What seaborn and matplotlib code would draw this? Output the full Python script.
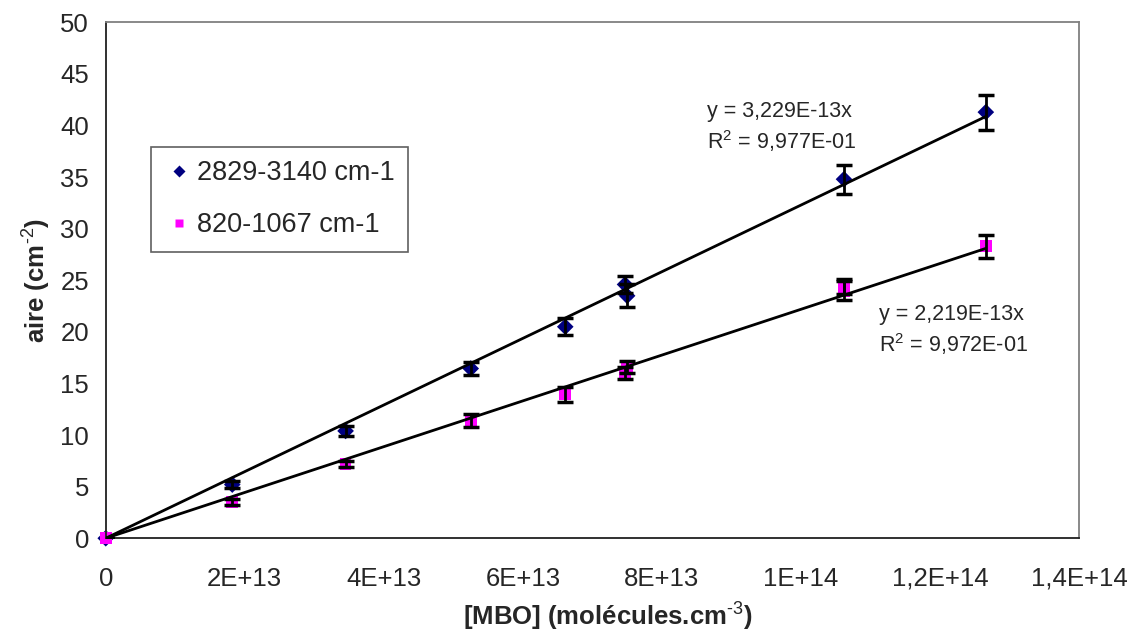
import pandas as pd
import matplotlib.pyplot as plt
import seaborn as sns
import numpy as np

# donnees
conc_a = [0, 1.82e13, 3.45e13, 5.25e13, 6.61e13, 7.47e13, 7.50e13, 1.062e14, 1.266e14]
aire_a = [0, 5.2, 10.4, 16.45, 20.5, 24.6, 23.5, 34.8, 41.3]
err_a = [0, 0.3, 0.5, 0.65, 0.8, 0.8, 1.1, 1.4, 1.7]

conc_b = [0, 1.82e13, 3.45e13, 5.25e13, 6.61e13, 7.47e13, 7.50e13, 1.062e14, 1.062e14, 1.266e14]
aire_b = [0, 3.5, 7.2, 11.4, 13.95, 16.0, 16.6, 24.4, 24.0, 28.3]
err_b = [0, 0.3, 0.3, 0.65, 0.75, 0.6, 0.6, 0.7, 0.9, 1.1]

series = ['2829-3140 cm-1', '820-1067 cm-1']
pentes = [3.229e-13, 2.219e-13]
equations = ['y = 3,229E-13x', 'y = 2,219E-13x']
r2_textes = ['R$^2$ = 9,977E-01', 'R$^2$ = 9,972E-01']

x_ticks = [0, 2e13, 4e13, 6e13, 8e13, 1e14, 1.2e14, 1.4e14]
x_labels = ['0', '2E+13', '4E+13', '6E+13', '8E+13', '1E+14', '1,2E+14', '1,4E+14']
y_ticks = list(range(0, 55, 5))

sns.set_style('white')
plt.rcParams['font.family'] = ['Liberation Sans', 'DejaVu Sans']
plt.rcParams['mathtext.fontset'] = 'custom'
plt.rcParams['mathtext.rm'] = 'Liberation Sans'
plt.rcParams['mathtext.bf'] = 'Liberation Sans:bold'

df = pd.concat([
    pd.DataFrame({'conc': conc_a, 'aire': aire_a, 'err': err_a, 'serie': series[0]}),
    pd.DataFrame({'conc': conc_b, 'aire': aire_b, 'err': err_b, 'serie': series[1]}),
], ignore_index=True)

couleurs = {series[0]: '#000080', series[1]: '#FF00FF'}
marqueurs = {series[0]: 'D', series[1]: 's'}

fig = plt.figure(figsize=(11.31, 6.4), dpi=100)
ax = fig.add_axes([0.0935, 0.159, 0.8605, 0.806])

sns.scatterplot(data=df, x='conc', y='aire', hue='serie', style='serie',
                palette=couleurs, markers=marqueurs, s=72, edgecolor='none',
                zorder=2, ax=ax)
for coll in ax.collections:
    coll.set_clip_on(False)

for serie in series:
    d = df[df['serie'] == serie]
    ax.errorbar(d['conc'], d['aire'], yerr=d['err'], fmt='none', ecolor='black',
                elinewidth=2, capsize=5.5, capthick=2.5, zorder=3)

# droites de tendance passant par l'origine
for serie, pente in zip(series, pentes):
    xmax = df.loc[df['serie'] == serie, 'conc'].max()
    xs = np.array([0, xmax])
    ax.plot(xs, pente * xs, color='black', lw=2, zorder=4)

ax.text(0.618, 0.797, equations[0] + '\n' + r2_textes[0], transform=ax.transAxes,
        fontsize=15.5, va='center', ha='left', linespacing=1.3)
ax.text(0.795, 0.402, equations[1] + '\n' + r2_textes[1], transform=ax.transAxes,
        fontsize=15.5, va='center', ha='left', linespacing=1.3)

ax.set_xlim(0, 1.4e14)
ax.set_ylim(0, 50)
ax.set_xticks(x_ticks)
ax.set_xticklabels(x_labels)
ax.set_yticks(y_ticks)
ax.tick_params(axis='x', direction='inout', length=11, width=1, labelsize=18.5, pad=15)
ax.tick_params(axis='y', direction='out', length=5, width=1, labelsize=18.5, pad=7)

for cote in ['left', 'bottom']:
    ax.spines[cote].set_color('#202020')
    ax.spines[cote].set_linewidth(1.3)
for cote in ['top', 'right']:
    ax.spines[cote].set_color('#808080')
    ax.spines[cote].set_linewidth(1.3)

ax.set_xlabel(r'[MBO] (molécules.cm$^{\mathbf{\text{-3}}}$)', fontsize=18.5, fontweight='bold', labelpad=6)
ax.xaxis.label.set_x(0.516)
ax.set_ylabel(r'aire (cm$^{\mathbf{\text{-2}}}$)', fontsize=18.5, fontweight='bold', labelpad=6)

leg = ax.legend(loc='upper left', bbox_to_anchor=(0.046, 0.759), fontsize=19.5,
                frameon=True, fancybox=False, framealpha=1, edgecolor='#606060',
                borderaxespad=0, borderpad=0.5, labelspacing=0.95, handletextpad=0.1,
                handlelength=1.1, markerscale=0.75)
leg.get_frame().set_linewidth(1.2)

fig.savefig('out.png', dpi=100)
